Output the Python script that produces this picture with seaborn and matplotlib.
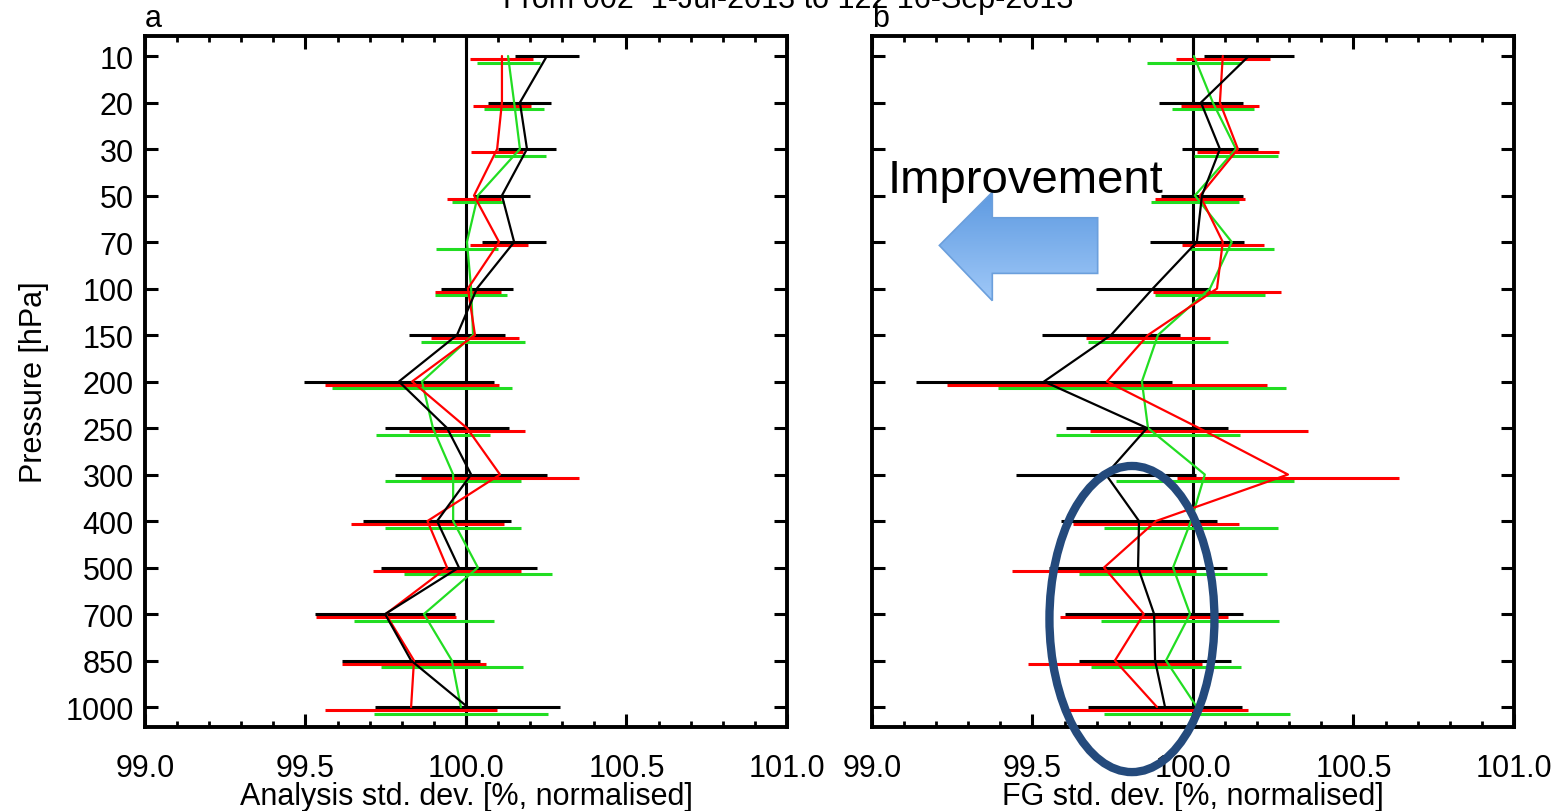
import numpy as np
import pandas as pd
import matplotlib
matplotlib.use("Agg")
import matplotlib.pyplot as plt
import seaborn as sns
from matplotlib.patches import Ellipse, Polygon
from matplotlib.ticker import MultipleLocator

levels = ["10", "20", "30", "50", "70", "100", "150", "200", "250", "300",
          "400", "500", "700", "850", "1000"]

# panel a: analysis std. dev. (mean, half width of bar)
an_black = [100.252, 100.168, 100.190, 100.112, 100.150, 100.034, 99.972, 99.791,
            99.941, 100.016, 99.910, 99.978, 99.748, 99.829, 100.005]
an_black_err = [0.100, 0.098, 0.089, 0.087, 0.100, 0.112, 0.150, 0.296,
                0.193, 0.237, 0.230, 0.243, 0.218, 0.215, 0.287]
an_red = [100.112, 100.112, 100.097, 100.025, 100.103, 100.006, 100.028, 99.832,
          100.003, 100.106, 99.880, 99.941, 99.750, 99.838, 99.829]
an_red_err = [0.098, 0.089, 0.081, 0.084, 0.090, 0.103, 0.137, 0.271,
              0.181, 0.246, 0.237, 0.230, 0.218, 0.224, 0.268]
an_green = [100.131, 100.150, 100.168, 100.037, 100.003, 100.016, 100.022, 99.863,
            99.897, 99.960, 99.960, 100.037, 99.869, 99.956, 99.984]
an_green_err = [0.098, 0.093, 0.081, 0.081, 0.097, 0.112, 0.162, 0.280,
                0.178, 0.212, 0.212, 0.230, 0.218, 0.221, 0.271]

# panel b: first guess std. dev.
fg_black = [100.174, 100.025, 100.084, 100.028, 100.012, 99.875, 99.745, 99.536,
            99.857, 99.729, 99.832, 99.829, 99.879, 99.882, 99.913]
fg_black_err = [0.140, 0.131, 0.118, 0.128, 0.146, 0.178, 0.215, 0.399,
                0.252, 0.280, 0.243, 0.277, 0.277, 0.237, 0.240]
fg_red = [100.093, 100.084, 100.140, 100.022, 100.093, 100.075, 99.860, 99.732,
          100.019, 100.296, 99.885, 99.723, 99.847, 99.757, 99.888]
fg_red_err = [0.146, 0.121, 0.128, 0.140, 0.128, 0.200, 0.193, 0.498,
              0.340, 0.346, 0.259, 0.287, 0.262, 0.271, 0.283]
fg_green = [100.003, 100.062, 100.134, 100.006, 100.121, 100.053, 99.891, 99.841,
            99.860, 100.037, 99.994, 99.938, 99.991, 99.916, 100.012]
fg_green_err = [0.146, 0.128, 0.131, 0.137, 0.131, 0.171, 0.218, 0.449,
                0.287, 0.277, 0.271, 0.293, 0.277, 0.234, 0.290]

colors = {"black": "black", "red": "#ff0000", "green": "#22dd22"}
bar_offset = {"black": 0.0, "red": 0.07, "green": 0.14}

sns.set_style("ticks")
plt.rcParams["font.family"] = ["Liberation Sans", "DejaVu Sans"]
plt.rcParams["text.color"] = "black"
plt.rcParams["axes.labelcolor"] = "black"
plt.rcParams["xtick.color"] = "black"
plt.rcParams["ytick.color"] = "black"
plt.rcParams["axes.edgecolor"] = "black"

fig = plt.figure(figsize=(15.64, 8.12), dpi=100)
ax_a = fig.add_axes([0.0927, 0.1034, 0.4105, 0.851])
ax_b = fig.add_axes([0.5575, 0.1034, 0.4105, 0.851])

pos = np.arange(len(levels))


def draw_panel(ax, black, black_err, red, red_err, green, green_err, xlabel, show_y):
    series = {"green": (green, green_err), "red": (red, red_err), "black": (black, black_err)}
    df = pd.concat([
        pd.DataFrame({"pos": pos, "value": vals, "series": name})
        for name, (vals, err) in series.items()
    ])
    ax.axvline(100.0, color="black", lw=2.2, zorder=1)
    for name, (vals, err) in series.items():
        v = np.array(vals)
        e = np.array(err)
        ax.hlines(pos + bar_offset[name], v - e, v + e, color=colors[name], lw=2.2, zorder=2)
    sns.lineplot(data=df, x="value", y="pos", hue="series", palette=colors,
                 hue_order=["green", "red", "black"], sort=False, estimator=None,
                 orient="y", legend=False, linewidth=1.6, ax=ax, zorder=3)
    ax.set_xlim(99.0, 101.0)
    ax.set_ylim(14.43, -0.43)
    ax.set_yticks(pos)
    ax.set_yticklabels(levels if show_y else [])
    ax.set_xticks([99.0, 99.5, 100.0, 100.5, 101.0])
    ax.set_xticklabels(["99.0", "99.5", "100.0", "100.5", "101.0"])
    ax.xaxis.set_minor_locator(MultipleLocator(0.1))
    ax.tick_params(axis="both", which="major", direction="in", length=9.5, width=2.2,
                   top=True, right=True, labelsize=22, colors="black")
    ax.tick_params(axis="x", which="major", pad=19)
    ax.tick_params(axis="y", which="major", pad=8)
    ax.tick_params(axis="x", which="minor", direction="in", length=4.5, width=2.0,
                   top=True, bottom=True, colors="black")
    for s in ax.spines.values():
        s.set_linewidth(2.8)
        s.set_color("black")
        s.set_visible(True)
    ax.set_xlabel(xlabel, fontsize=22, labelpad=-2, color="black")
    if show_y:
        ax.set_ylabel("Pressure [hPa]", fontsize=22, labelpad=12, color="black")
    else:
        ax.set_ylabel("")


draw_panel(ax_a, an_black, an_black_err, an_red, an_red_err, an_green, an_green_err,
           "Analysis std. dev. [%, normalised]", True)
draw_panel(ax_b, fg_black, fg_black_err, fg_red, fg_red_err, fg_green, fg_green_err,
           "FG std. dev. [%, normalised]", False)

# panel letters and (cropped) title
fig.text(0.0927, 1 - 27 / 812, "a", fontsize=22, ha="left", va="baseline")
fig.text(0.5575, 1 - 27 / 812, "b", fontsize=22, ha="left", va="baseline")
fig.text(0.504, 1 - 8 / 812, "From 002  1-Jul-2013 to 122 16-Sep-2013",
         fontsize=22, ha="center", va="baseline")

# improvement annotation in panel b
fig.text(0.5678, 1 - 193 / 812, "Improvement", fontsize=34, ha="left", va="baseline")
arrow_pts = [(0.105, 0.697), (0.1875, 0.774), (0.1875, 0.737), (0.3516, 0.737),
             (0.3516, 0.6565), (0.1875, 0.6565), (0.1875, 0.617)]
arrow = Polygon(arrow_pts, closed=True, transform=ax_b.transAxes,
                facecolor="none", edgecolor="#6b9fdc", lw=1.2, zorder=5)
ax_b.add_patch(arrow)
grad = np.linspace(0, 1, 100).reshape(-1, 1)
cmap = matplotlib.colors.LinearSegmentedColormap.from_list("arr", ["#5b98e0", "#a6cdfa"])
im = ax_b.imshow(grad, cmap=cmap, aspect="auto", extent=[0.1, 0.36, 0.6, 0.78],
                 transform=ax_b.transAxes, origin="upper", zorder=4)
im.set_clip_path(arrow)
ax_b.set_xlim(99.0, 101.0)
ax_b.set_ylim(14.43, -0.43)

ell = Ellipse((0.405, 0.1563), 0.257, 0.443, transform=ax_b.transAxes,
              facecolor="none", edgecolor="#244a7c", lw=6, clip_on=False, zorder=6)
ax_b.add_patch(ell)

fig.savefig("out.png", dpi=100)
